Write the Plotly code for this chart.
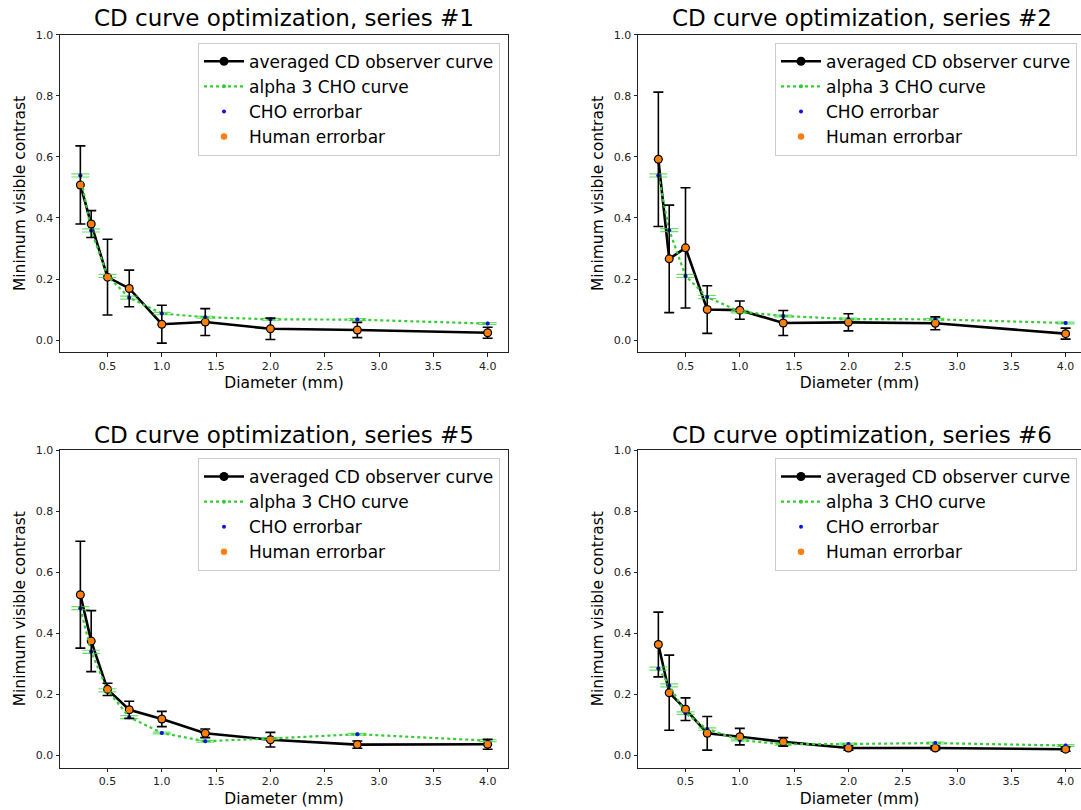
import plotly.graph_objects as go

# ---------------- data ----------------
diameters = [0.25, 0.35, 0.5, 0.7, 1.0, 1.4, 2.0, 2.8, 4.0]

series_titles = ["CD curve optimization, series #1", "CD curve optimization, series #2",
                 "CD curve optimization, series #5", "CD curve optimization, series #6"]

human_1 = [0.508, 0.380, 0.206, 0.169, 0.052, 0.059, 0.037, 0.033, 0.024]
human_err_1 = [0.128, 0.044, 0.124, 0.060, 0.062, 0.044, 0.035, 0.025, 0.018]
cho_1 = [0.539, 0.359, 0.210, 0.139, 0.087, 0.075, 0.068, 0.067, 0.054]
cho_err_1 = [0.005, 0.005, 0.005, 0.005, 0.004, 0.003, 0.003, 0.003, 0.003]

human_2 = [0.592, 0.266, 0.302, 0.100, 0.098, 0.056, 0.058, 0.055, 0.021]
human_err_2 = [0.220, 0.176, 0.197, 0.078, 0.030, 0.041, 0.028, 0.021, 0.018]
cho_2 = [0.539, 0.360, 0.210, 0.141, 0.093, 0.079, 0.069, 0.068, 0.056]
cho_err_2 = [0.005, 0.005, 0.005, 0.005, 0.004, 0.003, 0.003, 0.003, 0.003]

human_5 = [0.526, 0.374, 0.216, 0.149, 0.119, 0.072, 0.051, 0.035, 0.036]
human_err_5 = [0.175, 0.100, 0.020, 0.028, 0.025, 0.014, 0.024, 0.012, 0.016]
cho_5 = [0.482, 0.339, 0.213, 0.125, 0.073, 0.046, 0.055, 0.069, 0.048]
cho_err_5 = [0.005, 0.005, 0.005, 0.005, 0.003, 0.003, 0.003, 0.003, 0.003]

human_6 = [0.363, 0.205, 0.151, 0.072, 0.061, 0.044, 0.024, 0.024, 0.020]
human_err_6 = [0.106, 0.123, 0.037, 0.055, 0.027, 0.014, 0.007, 0.006, 0.007]
cho_6 = [0.284, 0.229, 0.138, 0.086, 0.050, 0.036, 0.037, 0.040, 0.032]
cho_err_6 = [0.005, 0.005, 0.004, 0.004, 0.003, 0.003, 0.003, 0.003, 0.003]

x_tick_vals = [0.5, 1.0, 1.5, 2.0, 2.5, 3.0, 3.5, 4.0]
x_tick_text = ["0.5", "1.0", "1.5", "2.0", "2.5", "3.0", "3.5", "4.0"]
y_tick_vals = [0.0, 0.2, 0.4, 0.6, 0.8, 1.0]
y_tick_text = ["0.0", "0.2", "0.4", "0.6", "0.8", "1.0"]

x_label = "Diameter (mm)"
y_label = "Minimum visible contrast"

# ---------------- layout helpers ----------------
W, H = 1081, 810
FONT = "DejaVu Sans"
cols_px = [(60, 508), (638, 1081)]
rows_px = [(34.7, 352.3), (450.0, 767.5)]
x_ranges = [[0.0625, 4.1875], [0.0625, 0.0625 + 443 / 108.6]]
y_range = [-0.04, 1.0]

panels = [
    (human_1, human_err_1, cho_1, cho_err_1),
    (human_2, human_err_2, cho_2, cho_err_2),
    (human_5, human_err_5, cho_5, cho_err_5),
    (human_6, human_err_6, cho_6, cho_err_6),
]

fig = go.Figure()
layout = dict(
    width=W, height=H,
    margin=dict(l=0, r=0, t=0, b=0),
    paper_bgcolor="white", plot_bgcolor="white",
    font=dict(family=FONT, color="black"),
    showlegend=True,
    annotations=[],
)

green = "#33cc33"
err_green = "rgba(60,210,60,0.75)"

for i, (hum, hum_err, cho, cho_err) in enumerate(panels):
    r, c = divmod(i, 2)
    n = i + 1
    xs = "" if n == 1 else str(n)
    xa, ya = "x" + xs, "y" + xs
    leg = "legend" if n == 1 else "legend" + str(n)
    x0, x1 = cols_px[c]
    yt, yb = rows_px[r]

    fig.add_trace(go.Scatter(
        x=diameters, y=hum, mode="lines+markers", name="averaged CD observer curve",
        line=dict(color="black", width=2.6),
        marker=dict(color="black", size=9),
        legendgroup=f"p{n}a", xaxis=xa, yaxis=ya, legend=leg))
    fig.add_trace(go.Scatter(
        x=diameters, y=cho, mode="lines+markers", name="alpha 3 CHO curve",
        line=dict(color=green, width=2.2, dash="dot"),
        marker=dict(color=green, size=4),
        legendgroup=f"p{n}b", xaxis=xa, yaxis=ya, legend=leg))
    fig.add_trace(go.Scatter(
        x=diameters, y=cho, mode="markers", name="CHO errorbar",
        marker=dict(color="#1010ee", size=4),
        error_y=dict(type="data", array=cho_err, visible=True, color=err_green,
                     thickness=1.2, width=9),
        legendgroup=f"p{n}c", xaxis=xa, yaxis=ya, legend=leg))
    fig.add_trace(go.Scatter(
        x=diameters, y=hum, mode="markers", name="Human errorbar",
        marker=dict(color="#ff7f0e", size=6.5),
        error_y=dict(type="data", array=hum_err, visible=True, color="black",
                     thickness=1.6, width=5),
        legendgroup=f"p{n}d", xaxis=xa, yaxis=ya, legend=leg))

    axis_common = dict(
        showgrid=False, zeroline=False, showline=True, linecolor="#222", linewidth=1,
        ticks="outside", ticklen=3.5, tickwidth=1, tickcolor="#222",
        tickfont=dict(family=FONT, size=11, color="#222"), automargin=False,
    )
    layout["xaxis" + xs] = dict(
        axis_common, domain=[x0 / W, x1 / W], range=x_ranges[c], anchor=ya,
        tickvals=x_tick_vals, ticktext=x_tick_text, mirror=True,
        title=dict(text=x_label, font=dict(family=FONT, size=15.5), standoff=5),
    )
    layout["yaxis" + xs] = dict(
        axis_common, domain=[(H - yb) / H, (H - yt) / H], range=y_range, anchor=xa,
        tickvals=y_tick_vals, ticktext=y_tick_text, mirror=(c == 0),
        title=dict(text=y_label, font=dict(family=FONT, size=15.5), standoff=6),
    )
    layout[leg] = dict(
        x=(x1 - 8) / W if c == 0 else 1077 / W, xanchor="right",
        y=(H - yt - 8) / H, yanchor="top",
        bgcolor="rgba(255,255,255,0.85)", bordercolor="#cccccc", borderwidth=1,
        font=dict(family=FONT, size=17, color="black"), itemwidth=40,
        tracegroupgap=0,
    )
    cx = (x0 + (x1 if c == 0 else 1086)) / 2
    layout["annotations"].append(dict(
        text=series_titles[i], x=cx / W, y=(H - (18 if r == 0 else 435)) / H,
        xref="paper", yref="paper", xanchor="center", yanchor="middle",
        showarrow=False, font=dict(family=FONT, size=23, color="black")))

fig.update_layout(**layout)
fig.write_html("out.html")
